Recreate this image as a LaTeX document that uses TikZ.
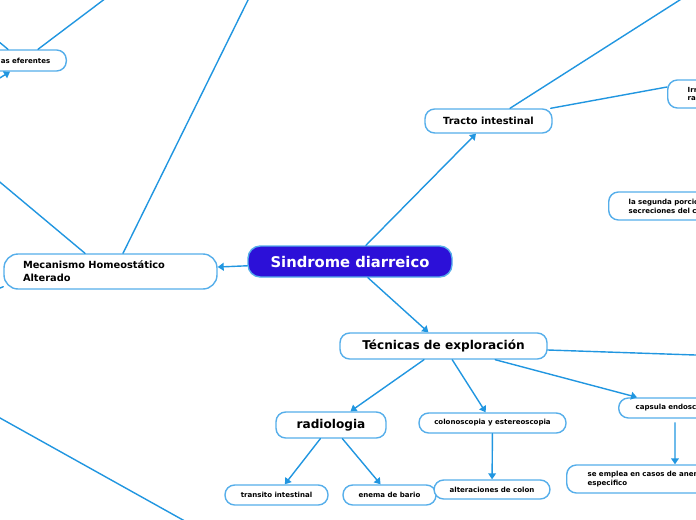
\documentclass[tikz,border=0pt]{standalone}
\usepackage{fontspec}
\setmainfont{DejaVu Sans}
\usepackage{tikz}
\usetikzlibrary{arrows.meta}
\usepackage{xcolor}
\definecolor{linkblue}{HTML}{2196E0}
\definecolor{edgeblue}{HTML}{55AEEA}
\definecolor{rootfill}{HTML}{2C10D8}
\newcommand\tinyfont{\fontsize{4}{5}\selectfont\bfseries}
\newcommand\midfont{\fontsize{5.6}{7.4}\selectfont\bfseries}
\newcommand\bigfont{\fontsize{6.9}{8.5}\selectfont\bfseries}
\newcommand\rootfont{\fontsize{8.4}{10}\selectfont\bfseries}

\begin{document}
\begin{tikzpicture}[x=0.02cm,y=-0.02cm,>={Triangle[length=3.4pt,width=4.4pt]},line cap=round,
  link/.style={linkblue,line width=0.8pt},
  topic/.style={draw=edgeblue,line width=0.8pt,fill=white,rounded corners=5.5pt,inner sep=0pt},
  sz/.style 2 args={minimum width=#1*0.02cm,minimum height=#2*0.02cm},
  lefttext/.style 2 args={align=left,text width=#2*0.02cm,inner xsep=#1*0.02cm}]
\useasboundingbox (0,0) rectangle (696,520);
\clip (0,0) rectangle (696,520);
\node[topic,sz={204}{31},fill=rootfill,text=white,rounded corners=7pt,font=\rootfont] (sd) at (350,261.5) {Sindrome diarreico};
\node[topic,sz={127}{24},font=\midfont] (tr) at (488.5,121) {Tracto intestinal};
\node[topic,sz={207}{26},font=\bigfont] (tec) at (443.5,346) {Técnicas de exploración};
\node[topic,sz={110}{26},font=\bigfont] (rad) at (331,425) {radiologia};
\node[topic,sz={147}{20},font=\tinyfont] (col) at (492.5,423) {colonoscopia y estereoscopia};
\node[topic,sz={103}{20},font=\tinyfont] (tra) at (276.5,495) {transito intestinal};
\node[topic,sz={93}{20},font=\tinyfont] (ene) at (389.5,495) {enema de bario};
\node[topic,sz={116}{19},font=\tinyfont] (alt) at (492,489.5) {alteraciones de colon};
\node[topic,sz={213}{35},rounded corners=8pt,font=\midfont,lefttext={19}{175}] (mec) at (110.5,271.5) {Mecanismo Homeostático\\Alterado};
\node[topic,sz={0}{20},font=\tinyfont,lefttext={17}{130},anchor=west] (cap) at (618,408) {capsula endosc};
\node[topic,sz={0}{28},font=\tinyfont,lefttext={21}{200},anchor=west] (emp) at (566,479) {se emplea en casos de anem\\especifico};
\node[topic,sz={0}{28},font=\tinyfont,lefttext={20}{100},anchor=west] (irr) at (667,94) {Irr\\ra};
\node[topic,sz={0}{28},font=\tinyfont,lefttext={20}{150},anchor=west] (seg) at (608,206) {la segunda porció\\secreciones del c};
\node[topic,sz={0}{21},font=\tinyfont,align=right,text width=100*0.02cm,inner xsep=16*0.02cm,anchor=east] (efe) at (67,60.5) {as eferentes};
\coordinate (trout) at (697,-11);
\coordinate (tecout) at (710,355.5);
\coordinate (mecup) at (-10,173.8);
\coordinate (mectop) at (250,-4);
\coordinate (meclow) at (-10,292);
\coordinate (efeup) at (110,-5);
\coordinate (efeleft) at (-10,34.5);
\coordinate (efein) at (-10,84);
\coordinate (lowa) at (-10,412.4);
\coordinate (lowb) at (200,529.5);
\draw[link,->] (sd) -- (tr);
\draw[link,->] (sd) -- (tec);
\draw[link,->] (sd) -- (mec);
\draw[link] ([xshift=0.43cm]tr.north) -- (trout);
\draw[link] ([xshift=-0.04cm]tr.north east) -- ([yshift=0.14cm]irr.west);
\draw[link] ([yshift=-0.08cm]tec.east) -- (tecout);
\draw[link,->] (tec) -- (rad);
\draw[link,->] (tec) -- (col);
\draw[link,->] (tec) -- ([xshift=0.38cm]cap.north west);
\draw[link,->] (rad) -- (tra);
\draw[link,->] (rad) -- (ene);
\draw[link,->] (col) -- (alt);
\draw[link,->] ([xshift=1.14cm,yshift=-0.08cm]cap.south west) -- ([xshift=2.18cm]emp.north west);
\draw[link] ([xshift=-0.51cm]mec.north) -- (mecup);
\draw[link] ([xshift=0.25cm]mec.north) -- (mectop);
\draw[link] ([yshift=0.06cm]mec.south west) -- (meclow);
\draw[link] ([xshift=-0.58cm]efe.north east) -- (efeup);
\draw[link] ([xshift=-1.18cm]efe.north east) -- (efeleft);
\draw[link,->] (efein) -- ([xshift=-1.14cm]efe.south east);
\draw[link] (lowa) -- (lowb);
\end{tikzpicture}
\end{document}
